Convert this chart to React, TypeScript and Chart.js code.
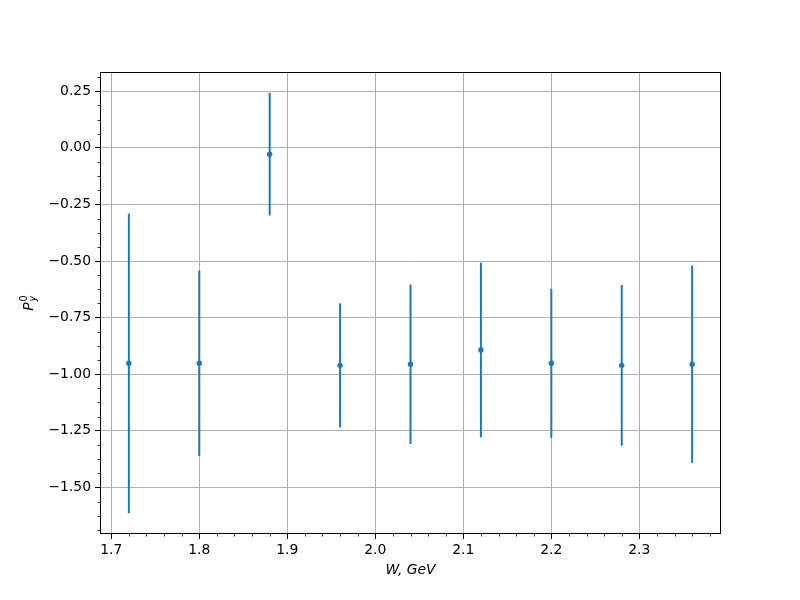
import React, { useEffect, useRef } from "react";
import { Chart, registerables } from "chart.js";

Chart.register(...registerables);

const wValues = [1.72, 1.8, 1.88, 1.96, 2.04, 2.12, 2.2, 2.28, 2.36];
const pValues = [-0.952, -0.952, -0.028, -0.961, -0.956, -0.893, -0.952, -0.961, -0.956];
const pErrors = [0.662, 0.41, 0.271, 0.274, 0.352, 0.386, 0.329, 0.355, 0.436];
const xTicks = [1.7, 1.8, 1.9, 2.0, 2.1, 2.2, 2.3];
const yTicks = [0.25, 0, -0.25, -0.5, -0.75, -1.0, -1.25, -1.5];
const xMinorTicks = [1.72, 1.74, 1.76, 1.78, 1.82, 1.84, 1.86, 1.88, 1.92, 1.94, 1.96, 1.98, 2.02, 2.04, 2.06, 2.08, 2.12, 2.14, 2.16, 2.18, 2.22, 2.24, 2.26, 2.28, 2.32, 2.34, 2.36, 2.38];
const yMinorTicks = [0.3125, 0.1875, 0.125, 0.0625, -0.0625, -0.125, -0.1875, -0.3125, -0.375, -0.4375, -0.5625, -0.625, -0.6875, -0.8125, -0.875, -0.9375, -1.0625, -1.125, -1.1875, -1.3125, -1.375, -1.4375, -1.5625, -1.625, -1.6875];
const xLimits = [1.6872, 2.3928];
const yLimits = [-1.706, 0.335];

const BLUE = "#1f77b4";
const FONT = '"DejaVu Sans", sans-serif';

const fmtY = (v: number) => (v < 0 ? "\u2212" + Math.abs(v).toFixed(2) : v.toFixed(2));

const errorBarPlugin = {
  id: "errorBars",
  beforeDatasetsDraw(chart: any) {
    const { ctx, scales } = chart;
    const x = scales.x;
    const y = scales.y;
    ctx.save();
    ctx.strokeStyle = BLUE;
    ctx.lineWidth = 2;
    wValues.forEach((w, i) => {
      const px = x.getPixelForValue(w);
      ctx.beginPath();
      ctx.moveTo(px, y.getPixelForValue(pValues[i] + pErrors[i]));
      ctx.lineTo(px, y.getPixelForValue(pValues[i] - pErrors[i]));
      ctx.stroke();
    });
    ctx.restore();
  },
};

const framePlugin = {
  id: "frame",
  afterDraw(chart: any) {
    const { ctx, chartArea, scales } = chart;
    const { left, right, top, bottom } = chartArea;
    const l = Math.round(left) + 0.5;
    const t = Math.round(top) + 0.5;
    const r = Math.round(right) - 0.5;
    const b = Math.round(bottom) - 0.5;
    ctx.save();
    ctx.strokeStyle = "#000";
    ctx.lineWidth = 1;
    ctx.strokeRect(l, t, r - l, b - t);
    // minor ticks
    ctx.lineWidth = 0.8;
    ctx.beginPath();
    xMinorTicks.forEach((v) => {
      const px = Math.round(scales.x.getPixelForValue(v)) + 0.5;
      ctx.moveTo(px, b);
      ctx.lineTo(px, b + 3);
    });
    yMinorTicks.forEach((v) => {
      const py = Math.round(scales.y.getPixelForValue(v)) + 0.5;
      ctx.moveTo(l, py);
      ctx.lineTo(l - 3, py);
    });
    ctx.stroke();
    // y-axis label: P_y^0
    ctx.translate(33, (top + bottom) / 2);
    ctx.rotate(-Math.PI / 2);
    ctx.fillStyle = "#000";
    ctx.textBaseline = "alphabetic";
    ctx.textAlign = "left";
    ctx.font = "italic 13.9px " + FONT;
    const pW = ctx.measureText("P").width;
    ctx.font = "9.7px " + FONT;
    const zW = ctx.measureText("0").width;
    ctx.font = "italic 9.7px " + FONT;
    const yW = ctx.measureText("y").width;
    const total = pW + Math.max(zW, yW) + 1;
    const start = -total / 2;
    ctx.font = "italic 13.9px " + FONT;
    ctx.fillText("P", start, 0);
    ctx.font = "9.7px " + FONT;
    ctx.fillText("0", start + pW + 1, -6);
    ctx.font = "italic 9.7px " + FONT;
    ctx.fillText("y", start + pW + 1, 3);
    ctx.restore();
  },
};

export default function App() {
  const canvasRef = useRef<HTMLCanvasElement | null>(null);

  useEffect(() => {
    if (!canvasRef.current) return;
    const chart = new Chart(canvasRef.current, {
      type: "scatter",
      data: {
        datasets: [
          {
            data: wValues.map((w, i) => ({ x: w, y: pValues[i] })),
            backgroundColor: BLUE,
            borderColor: BLUE,
            pointRadius: 2.7,
            pointBorderWidth: 0,
            showLine: false,
          },
        ],
      },
      options: {
        responsive: false,
        animation: false,
        layout: { padding: { top: 72, right: 79, bottom: 0, left: 0 } },
        plugins: {
          legend: { display: false },
          tooltip: { enabled: false },
          title: { display: false },
        },
        scales: {
          x: {
            type: "linear",
            min: xLimits[0],
            max: xLimits[1],
            afterFit: (scale: any) => {
              scale.height = 66;
            },
            afterBuildTicks: (scale: any) => {
              scale.ticks = xTicks.map((v) => ({ value: v }));
            },
            grid: {
              color: "#b0b0b0",
              lineWidth: 1,
              drawTicks: true,
              tickLength: 5,
              tickColor: "#000",
              tickWidth: 1,
            },
            border: { display: false },
            ticks: {
              color: "#000",
              font: { family: FONT, size: 13.9 },
              padding: 3,
              maxRotation: 0,
              autoSkip: false,
              callback: (v: any) => Number(v).toFixed(1),
            },
            title: {
              display: true,
              text: "W, GeV",
              color: "#000",
              font: { family: FONT, size: 13.9, style: "italic" },
              padding: { top: 0, bottom: 21 },
            },
          },
          y: {
            type: "linear",
            min: yLimits[0],
            max: yLimits[1],
            afterFit: (scale: any) => {
              scale.width = 100;
            },
            afterBuildTicks: (scale: any) => {
              scale.ticks = yTicks.map((v) => ({ value: v }));
            },
            grid: {
              color: "#b0b0b0",
              lineWidth: 1,
              drawTicks: true,
              tickLength: 5,
              tickColor: "#000",
              tickWidth: 1,
            },
            border: { display: false },
            ticks: {
              color: "#000",
              font: { family: FONT, size: 13.9 },
              padding: 4,
              autoSkip: false,
              callback: (v: any) => fmtY(Number(v)),
            },
          },
        },
      },
      plugins: [errorBarPlugin, framePlugin],
    } as any);
    return () => chart.destroy();
  }, []);

  return (
    <div style={{ position: "absolute", left: 0, top: 0, width: 800, height: 600, background: "#fff" }}>
      <canvas ref={canvasRef} width={800} height={600} />
    </div>
  );
}
